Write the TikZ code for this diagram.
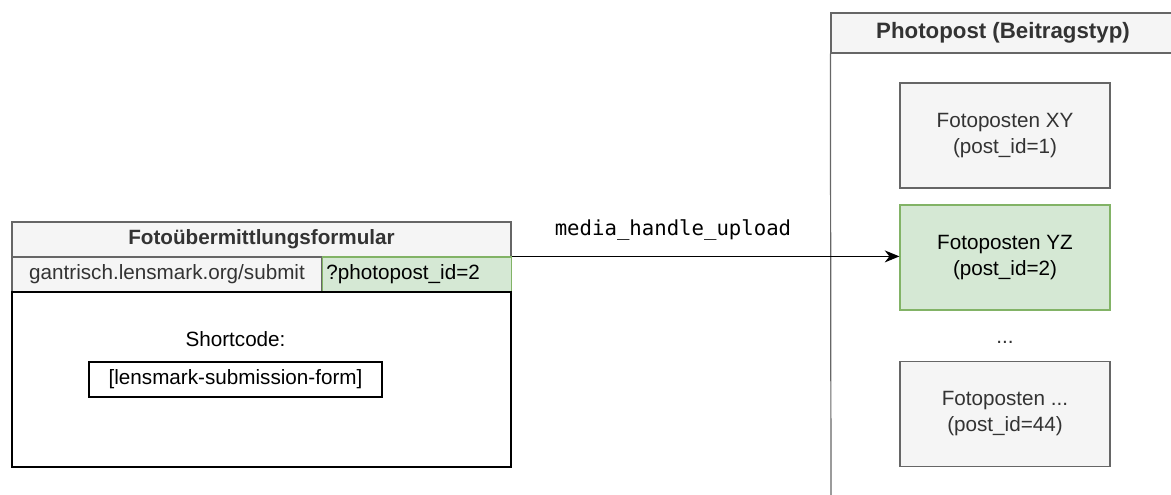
\documentclass[tikz,border=0pt]{standalone}
\usepackage{fontspec}
\setmainfont{Liberation Sans}
\setmonofont{DejaVu Sans Mono}
\usepackage{xcolor}
\usetikzlibrary{positioning, arrows.meta}
\definecolor{boxfill}{HTML}{F5F5F5}
\definecolor{boxline}{HTML}{666666}
\definecolor{boxtext}{HTML}{333333}
\definecolor{okfill}{HTML}{D5E8D4}
\definecolor{okline}{HTML}{82B366}

\tikzset{
  lbl/.style={font=\fontsize{15.5}{19.5}\selectfont, align=center, inner sep=0pt},
  graybox/.style={lbl, draw=boxline, fill=boxfill, text=boxtext, line width=0.9pt},
  greenbox/.style={lbl, draw=okline, fill=okfill, text=black, line width=0.9pt},
  plainbox/.style={lbl, draw=black, line width=0.9pt},
  hdr/.style={graybox, font=\fontsize{15.5}{19.5}\selectfont\bfseries},
}

\begin{document}
\begin{tikzpicture}[x=0.75pt, y=-0.75pt]
  \useasboundingbox (0,0) rectangle (1171,494);

  % Form on the left
  \node[hdr, minimum width=374.25pt, minimum height=26.25pt] (formhdr) at (261.5,239.5) {Fotoübermittlungsformular};
  \node[graybox, minimum width=232.5pt, minimum height=26.25pt] (urlbase) at (167,274.5) {gantrisch.lensmark.org/submit};
  \node[greenbox, minimum width=141.75pt, minimum height=26.25pt, anchor=west, text width=136pt, align=left] (urlid) at (322,274.5) {?photopost\_id=2};
  \node[plainbox, minimum width=374.25pt, minimum height=131.25pt] (formbody) at (261.5,379.5) {};
  \node[lbl] (sclabel) at (235.5,339) {Shortcode:};
  \node[plainbox, minimum width=219.75pt, minimum height=26.25pt] (scbox) at (235.5,379.5) {[lensmark-submission-form]};

  % Post type container on the right
  \node[hdr, font=\fontsize{16.7}{20}\selectfont\bfseries, minimum width=258pt, minimum height=30pt] (posthdr) at (1003,33) {Photopost (Beitragstyp)};
  \draw[boxline, line width=0.9pt] (posthdr.south west) -- (831,500);
  \draw[boxline, line width=0.9pt] (posthdr.south east) -- (1175,500);

  % Posts
  \node[graybox, minimum width=157.5pt, minimum height=78.75pt] (postxy) at (1005,135.5) {Fotoposten XY\\(post\_id=1)};
  \node[greenbox, minimum width=157.5pt, minimum height=78.75pt] (postyz) at (1005,257.5) {Fotoposten YZ\\(post\_id=2)};
  \node[lbl, text=boxtext] (dots) at (1005,342) {...};
  \node[graybox, minimum width=157.5pt, minimum height=78.75pt] (postlast) at (1005,414) {Fotoposten ...\\(post\_id=44)};

  % Upload arrow
  \draw[-{Stealth[length=11pt, width=9pt, inset=3.5pt]}, line width=0.9pt] (urlid.north east) -- (urlid.north east -| postyz.west) coordinate (arrend);
  \node[lbl, font=\fontsize{15.5}{19.5}\selectfont\ttfamily] (uplabel) at (673,230) {media\_handle\_upload};
\end{tikzpicture}
\end{document}
